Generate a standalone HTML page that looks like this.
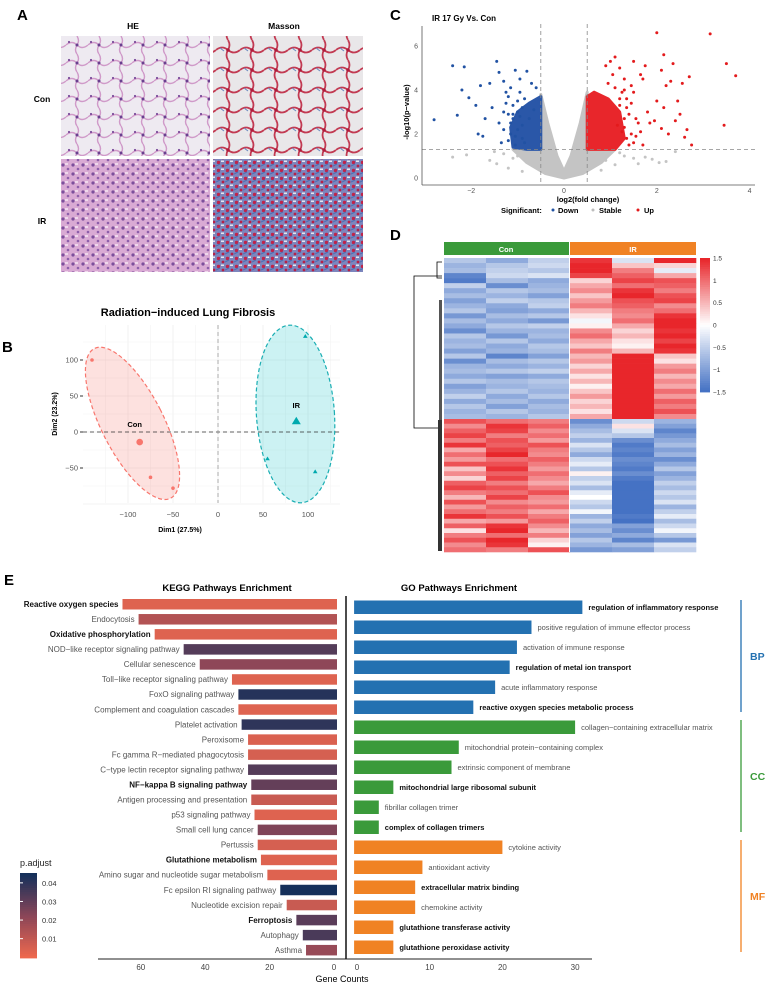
<!DOCTYPE html>
<html><head><meta charset="utf-8"><style>
html,body{margin:0;padding:0;background:#fff;}
svg{display:block;font-family:"Liberation Sans",sans-serif;}
</style></head><body>
<svg id="fig" width="769" height="985" viewBox="0 0 769 985" xmlns="http://www.w3.org/2000/svg">
<defs>
<pattern id="heCon" width="22" height="18" patternUnits="userSpaceOnUse"><rect width="22" height="18" fill="#eeeaf1"/><path d="M0 9 Q6 4 11 9 T22 9 M11 0 Q14 5 11 9 Q8 14 11 18" stroke="#d09ac9" stroke-width="1.4" fill="none"/><circle cx="11" cy="9" r="1.5" fill="#6a3f8f"/><circle cx="3" cy="6" r="1.1" fill="#7a4b9a"/></pattern>
<pattern id="heIR" width="10" height="9" patternUnits="userSpaceOnUse"><rect width="10" height="9" fill="#d9aad4"/><circle cx="3" cy="3" r="1.6" fill="#7c4f9c"/><circle cx="8" cy="7" r="1.3" fill="#8d5eaa"/><rect x="5" y="1" width="3" height="2" fill="#efd8ec"/></pattern>
<pattern id="maCon" width="24" height="20" patternUnits="userSpaceOnUse"><rect width="24" height="20" fill="#e9e7e9"/><path d="M0 10 Q6 5 12 10 T24 10 M12 0 Q15 5 12 10 Q9 15 12 20" stroke="#c23a52" stroke-width="1.8" fill="none"/><path d="M4 8 L8 11" stroke="#6a8ac0" stroke-width="1"/><circle cx="12" cy="10" r="1.8" fill="#b01c3c"/></pattern>
<pattern id="maIR" width="9" height="8" patternUnits="userSpaceOnUse"><rect width="9" height="8" fill="#7d86bd"/><circle cx="2.5" cy="2.5" r="1.7" fill="#c0234a"/><circle cx="7" cy="6" r="1.4" fill="#b62047"/><rect x="5" y="0.5" width="3" height="1.5" fill="#e7e5ee"/><path d="M0 6 L4 4" stroke="#4a6fb5" stroke-width="1"/></pattern>
</defs>

<g>
<text x="17" y="20" font-size="15" font-weight="bold">A</text>
<text x="133" y="29" font-size="8.5" font-weight="bold" text-anchor="middle">HE</text>
<text x="284" y="29" font-size="8.5" font-weight="bold" text-anchor="middle">Masson</text>
<text x="42" y="102" font-size="8.5" font-weight="bold" text-anchor="middle">Con</text>
<text x="42" y="224" font-size="8.5" font-weight="bold" text-anchor="middle">IR</text>
<rect x="61" y="36" width="149" height="120" fill="url(#heCon)"/>
<rect x="213" y="36" width="150" height="120" fill="url(#maCon)"/>
<rect x="61" y="159" width="149" height="113" fill="url(#heIR)"/>
<rect x="213" y="159" width="150" height="113" fill="url(#maIR)"/>
</g>

<g id="pca">
<text x="2" y="352" font-size="15" font-weight="bold">B</text>
<text x="188" y="316" font-size="11" font-weight="bold" text-anchor="middle">Radiation−induced Lung Fibrosis</text>
<text x="180" y="532" font-size="7" font-weight="bold" text-anchor="middle">Dim1 (27.5%)</text>
<text transform="translate(57,414) rotate(-90)" font-size="7" font-weight="bold" text-anchor="middle">Dim2 (23.2%)</text>
</g>

<g id="volcano">
<text x="390" y="20" font-size="15" font-weight="bold">C</text>
<text x="432" y="21" font-size="8" font-weight="bold">IR 17 Gy Vs. Con</text>
<text x="588" y="202" font-size="7.5" font-weight="bold" text-anchor="middle">log2(fold change)</text>
<text transform="translate(409,112) rotate(-90)" font-size="7.5" font-weight="bold" text-anchor="middle">-log10(p−value)</text>
<g>
<text x="501" y="213" font-size="7.5" font-weight="bold">Significant:</text>
<circle cx="553" cy="210" r="1.5" fill="#2152a3"/>
<text x="558" y="213" font-size="7.5" font-weight="bold">Down</text>
<circle cx="593" cy="210" r="1.5" fill="#bdbdbd"/>
<text x="599" y="213" font-size="7.5" font-weight="bold">Stable</text>
<circle cx="638" cy="210" r="1.5" fill="#e31a1c"/>
<text x="644" y="213" font-size="7.5" font-weight="bold">Up</text>
</g>
</g>

<g id="heat">
<text x="390" y="240" font-size="15" font-weight="bold">D</text>
<rect x="444" y="242" width="125" height="13" fill="#3a9a3a"/>
<rect x="570" y="242" width="126" height="13" fill="#f08224"/>
<text x="506" y="252" font-size="7.5" font-weight="bold" fill="#fff" text-anchor="middle">Con</text>
<text x="633" y="252" font-size="7.5" font-weight="bold" fill="#fff" text-anchor="middle">IR</text>
<path d="M442 276 H414 V428 H442 M442 262 H437 V278 H442 M437 262 V276" stroke="#000" stroke-width="0.8" fill="none"/>
<rect x="439" y="300" width="3" height="120" fill="#555"/>
<rect x="438" y="420" width="4" height="131" fill="#333"/>
</g>

<g id="enrich">
<text x="4" y="585" font-size="15" font-weight="bold">E</text>
<text x="227" y="591" font-size="9.5" font-weight="bold" text-anchor="middle">KEGG Pathways Enrichment</text>
<text x="459" y="591" font-size="9.5" font-weight="bold" text-anchor="middle">GO Pathways Enrichment</text>
<text x="342" y="982" font-size="9" text-anchor="middle">Gene Counts</text>
<text x="20" y="866" font-size="9" fill="#222">p.adjust</text>
</g>
</svg>
<script>
var NS='http://www.w3.org/2000/svg';
function mk(parent,tag,attrs){var e=document.createElementNS(NS,tag);for(var k in attrs)e.setAttribute(k,attrs[k]);parent.appendChild(e);return e;}
function txt(parent,x,y,s,size,extra){var e=mk(parent,'text',Object.assign({x:x,y:y,'font-size':size},extra||{}));e.textContent=s;return e;}

/* ===== PCA data ===== */
var pcaTicksX=[-100,-50,0,50,100];
var pcaTicksY=[-50,0,50,100];
var conX=[-140,-75,-50];
var conY=[100,-63,-78];
var irX=[97,55,108];
var irY=[133,-37,-55];
var conCentroid=[-87,-14];
var irCentroid=[87,15];
var conEllipse=[-95,12,31,84,-27];
var irEllipse=[86,25,39,89,-4];

/* ===== Volcano data ===== */
var vTicksX=[-2,0,2,4];
var vTicksY=[0,2,4,6];
var downFC=[-2.8,-2.4,-2.3,-2.2,-2.15,-2.05,-1.9,-1.85,-1.8,-1.75,-1.7,-1.6,-1.55,-1.45,-1.4,-1.4,-1.35,-1.3,-1.25,-1.2,-1.15,-1.1,-1.05,-1.0,-0.95,-0.9,-0.85,-0.8,-0.75,-0.7,-0.65,-0.6,-1.3,-1.2,-1.1,-1.0,-0.9,-1.05,-0.95,-0.85,-1.25,-1.15,-1.2,-1.1,-1.0,-0.9,-1.3,-1.15,-1.05,-0.95];
var downP=[2.65,5.1,2.85,4.0,5.05,3.65,3.3,2.0,4.2,1.9,2.7,4.3,3.2,5.3,4.8,2.5,1.6,4.4,3.9,2.9,4.1,3.3,4.9,2.2,4.5,1.8,3.6,4.85,2.7,4.3,3.1,4.1,2.2,1.7,2.7,3.0,2.4,1.5,3.9,1.6,3.4,2.0,3.7,2.9,3.5,3.2,3.0,2.5,1.9,2.8];
var upFC=[3.15,2.0,3.5,3.7,3.45,2.15,2.35,2.1,2.7,2.55,2.3,2.2,2.0,2.15,2.45,2.5,2.4,2.65,2.75,2.6,2.25,2.1,1.95,1.85,1.75,1.5,1.65,1.7,1.3,1.2,1.1,1.0,0.9,1.05,1.7,1.65,1.8,1.45,1.55,1.35,1.25,1.15,1.4,1.3,1.5,1.2,0.95,1.35,1.45,1.5,1.6,1.4,1.3,1.55,1.25,1.1,1.2,1.3,1.45,1.35];
var upP=[6.55,6.6,5.2,4.65,2.4,5.6,5.2,4.9,4.6,4.3,4.4,4.2,3.5,3.2,3.5,2.9,2.6,2.2,1.5,1.85,2.0,2.25,2.6,2.5,5.1,5.3,4.7,4.5,4.5,5.0,5.5,5.3,5.1,4.7,1.5,2.1,3.0,3.4,2.7,1.8,3.9,2.4,2.9,2.3,1.6,3.6,4.3,3.2,2.0,3.9,2.5,1.5,2.7,1.9,2.1,4.1,3.3,4.0,4.2,3.6];
var greyFC=[-2.4,-2.1,-1.6,-1.45,-1.3,-1.2,-1.1,0.9,1.1,1.3,1.6,1.75,1.9,2.05,2.2,2.4,-0.9,-0.7,0.8,1.0,-1.5,-1.0,1.2,1.5];
var greyP=[0.95,1.05,0.8,0.65,1.1,0.45,0.9,0.8,0.6,1.0,0.65,0.95,0.85,0.7,0.75,1.2,0.3,0.6,0.35,1.15,1.2,1.0,1.15,0.9];
var greyDenseFC=[-0.5,-0.5,-1.1,-0.8,-0.4,0,0.4,0.8,1.1,0.5,0.5,0.35,0.15,0,-0.15,-0.35];
var greyDenseP=[3.8,1.3,1.3,0.7,0.2,0,0.2,0.7,1.3,1.3,3.9,2.5,1.0,0.3,1.0,2.5];
var blueDenseFC=[-0.5,-0.5,-0.75,-1.0,-1.15,-1.1,-0.8,-0.6];
var blueDenseP=[1.3,3.7,3.4,3.0,2.3,1.4,1.3,1.3];
var redDenseFC=[0.5,0.5,0.65,0.95,1.2,1.3,1.1,0.5];
var redDenseP=[1.3,3.7,3.9,3.6,3.0,1.8,1.3,1.3];

/* ===== Heatmap data (cols: Con1,Con2,Con3,IR1,IR2,IR3) ===== */
var heatTop=[
[-0.6,-0.9,-0.5,1.4,-0.3,1.5],[-0.8,-0.6,-0.4,1.5,0.4,0.3],[-0.7,-0.5,-0.6,1.5,0.9,-0.2],[-1.3,-0.4,-0.3,1.3,1.1,0.6],
[-1.4,-0.7,-0.9,0.3,1.3,1.2],[-0.5,-1.2,-0.8,0.6,1.0,1.1],[-0.9,-0.6,-0.7,0.8,1.4,0.9],[-0.7,-0.8,-1.0,0.4,1.5,1.2],
[-1.0,-0.5,-0.6,0.7,1.2,1.3],[-0.8,-0.9,-0.5,0.9,1.1,0.8],[-0.6,-1.0,-0.9,0.5,0.9,1.0],[-1.1,-0.7,-0.6,0.2,0.8,1.4],
[-0.7,-0.9,-1.1,-0.1,1.0,1.5],[-0.9,-0.6,-0.5,0.1,0.6,1.5],[-1.2,-0.8,-0.8,0.8,0.3,1.4],[-0.6,-1.1,-0.7,1.0,0.5,1.5],
[-0.8,-0.6,-0.9,0.6,0.2,1.3],[-0.7,-0.9,-0.6,0.4,0.1,1.5],[-1.0,-0.8,-0.7,0.9,0.5,1.4],[-0.6,-1.3,-1.0,0.5,1.5,0.4],
[-1.2,-0.7,-0.6,0.7,1.5,0.2],[-0.8,-0.9,-0.8,0.3,1.5,0.7],[-0.7,-0.6,-0.5,0.6,1.5,0.9],[-0.9,-1.0,-0.9,0.2,1.5,0.5],
[-0.6,-0.7,-0.6,0.5,1.5,0.8],[-1.0,-0.8,-0.7,0.1,1.5,0.6],[-0.8,-0.6,-0.8,0.4,1.5,1.0],[-0.5,-0.9,-0.6,0.7,1.5,0.7],
[-0.9,-0.7,-0.9,0.3,1.5,1.1],[-0.6,-1.0,-0.7,0.5,1.5,0.9],[-0.8,-0.6,-0.8,0.2,1.5,1.2],[-0.7,-0.8,-0.6,0.6,1.5,0.8]];
var heatBottom=[
[1.2,1.0,0.9,-1.2,-0.4,-0.8],[0.8,1.4,1.1,-0.9,0.2,-1.0],[1.1,1.3,0.8,-0.7,-0.3,-1.3],[1.3,0.9,1.0,-0.5,-0.6,-1.1],
[0.9,1.2,0.7,-0.8,-1.2,-0.9],[1.4,1.1,1.2,-0.3,-1.4,-0.7],[0.6,1.3,0.9,-0.6,-1.3,-1.0],[1.0,1.5,0.8,-0.9,-1.4,-0.8],
[0.7,1.0,1.1,-0.4,-1.2,-1.2],[1.2,1.2,0.9,-0.2,-1.3,-0.9],[0.4,1.4,0.7,-0.6,-1.4,-0.6],[0.8,1.1,1.0,0.1,-1.2,-1.0],
[0.3,1.3,0.8,-0.5,-1.4,-0.8],[1.1,0.9,0.6,-0.3,-1.5,-0.5],[1.3,1.2,0.9,-0.7,-1.5,-0.7],[0.9,1.0,1.2,-0.2,-1.5,-0.4],
[0.5,1.3,0.8,0.0,-1.5,-0.6],[1.2,0.8,0.7,-0.4,-1.5,-0.3],[0.7,1.1,1.0,-0.6,-1.5,-0.8],[1.0,0.9,0.6,-0.1,-1.5,-0.5],
[1.4,1.2,0.9,-0.8,-1.4,-0.2],[0.6,0.7,1.1,-0.5,-1.5,-0.7],[1.1,1.4,0.8,-0.9,-1.0,-0.4],[0.2,1.5,0.5,-0.7,-1.2,-0.1],
[0.9,1.0,0.9,-1.0,-0.9,-0.6],[1.2,1.5,0.3,-0.6,-1.3,-1.1],[0.8,1.4,0.1,-0.8,-0.7,-0.3],[1.0,0.9,1.2,-1.1,-1.0,-0.5]];
var heatTicks=[1.5,1,0.5,0,-0.5,-1,-1.5];
var heatTickLabels=['1.5','1','0.5','0','−0.5','−1','−1.5'];

/* ===== KEGG data ===== */
var keggNames=['Reactive oxygen species','Endocytosis','Oxidative phosphorylation','NOD−like receptor signaling pathway','Cellular senescence','Toll−like receptor signaling pathway','FoxO signaling pathway','Complement and coagulation cascades','Platelet activation','Peroxisome','Fc gamma R−mediated phagocytosis','C−type lectin receptor signaling pathway','NF−kappa B signaling pathway','Antigen processing and presentation','p53 signaling pathway','Small cell lung cancer','Pertussis','Glutathione metabolism','Amino sugar and nucleotide sugar metabolism','Fc epsilon RI signaling pathway','Nucleotide excision repair','Ferroptosis','Autophagy','Asthma'];
var keggCounts=[66,61,56,47,42,32,30,30,29,27,27,27,26,26,25,24,24,23,21,17,15,12,10,9];
var keggPadj=[0.004,0.014,0.004,0.033,0.022,0.004,0.042,0.004,0.040,0.005,0.006,0.033,0.030,0.009,0.004,0.025,0.006,0.004,0.004,0.046,0.009,0.032,0.035,0.020];
var keggBold=[1,0,1,0,0,0,0,0,0,0,0,0,1,0,0,0,0,1,0,0,0,1,0,0];
var keggTicks=[60,40,20,0];
var padjTicks=[0.04,0.03,0.02,0.01];

/* ===== GO data ===== */
var goNames=['regulation of inflammatory response','positive regulation of immune effector process','activation of immune response','regulation of metal ion transport','acute inflammatory response','reactive oxygen species metabolic process','collagen−containing extracellular matrix','mitochondrial protein−containing complex','extrinsic component of membrane','mitochondrial large ribosomal subunit','fibrillar collagen trimer','complex of collagen trimers','cytokine activity','antioxidant activity','extracellular matrix binding','chemokine activity','glutathione transferase activity','glutathione peroxidase activity'];
var goCounts=[31,24,22,21,19,16,30,14,13,5,3,3,20,9,8,8,5,5];
var goCat=['BP','BP','BP','BP','BP','BP','CC','CC','CC','CC','CC','CC','MF','MF','MF','MF','MF','MF'];
var goBold=[1,0,0,1,0,1,0,0,0,1,0,1,0,0,1,0,1,1];
var goTicks=[0,10,20,30];
var goCatNames=['BP','CC','MF'];

/* ---------- PCA ---------- */
(function(){
var g=document.getElementById('pca');
var X=function(v){return 218+v*0.9;}, Y=function(v){return 432-v*0.72;};
var grid=mk(g,'g',{});


for(var v=-125;v<=125;v+=25){mk(grid,'line',{x1:X(v),x2:X(v),y1:325,y2:503,stroke:v%50===0?'#e8e8e8':'#f3f3f3','stroke-width':0.6});}
for(var w=-100;w<=125;w+=25){mk(grid,'line',{x1:83,x2:340,y1:Y(w),y2:Y(w),stroke:w%50===0?'#e8e8e8':'#f3f3f3','stroke-width':0.6});}
function ell(p,fill,stroke,name){var e=mk(g,'ellipse',{cx:X(p[0]),cy:Y(p[1]),rx:p[2],ry:p[3],transform:'rotate('+p[4]+' '+X(p[0])+' '+Y(p[1])+')',fill:fill,stroke:stroke,'stroke-width':1.2,'stroke-dasharray':'4 2.5'});

}
ell(conEllipse,'rgba(248,118,109,0.22)','#f8766d','con-ellipse');
ell(irEllipse,'rgba(0,191,196,0.2)','#1aaeb3','ir-ellipse');
mk(g,'line',{x1:83,x2:340,y1:Y(0),y2:Y(0),stroke:'#333','stroke-dasharray':'4 3','stroke-width':0.8});
mk(g,'line',{x1:X(0),x2:X(0),y1:325,y2:503,stroke:'#999','stroke-dasharray':'4 3','stroke-width':0.8});
for(var i=0;i<conX.length;i++){var c=mk(g,'circle',{cx:X(conX[i]),cy:Y(conY[i]),r:1.8,fill:'#f8766d'});

}
for(var j=0;j<irX.length;j++){var x=X(irX[j]),y=Y(irY[j]);var t=mk(g,'polygon',{points:(x)+','+(y-2.2)+' '+(x-2.3)+','+(y+1.6)+' '+(x+2.3)+','+(y+1.6),fill:'#00a9ae'});

}
var cc=mk(g,'circle',{cx:X(conCentroid[0]),cy:Y(conCentroid[1]),r:3.3,fill:'#f8766d'});


var ix=X(irCentroid[0]),iy=Y(irCentroid[1]);
var ic=mk(g,'polygon',{points:ix+','+(iy-4.5)+' '+(ix-4.5)+','+(iy+3)+' '+(ix+4.5)+','+(iy+3),fill:'#00a9ae'});


txt(g,X(conCentroid[0])-5,Y(conCentroid[1])-15,'Con',7.5,{'font-weight':'bold','text-anchor':'middle'});
txt(g,ix,iy-13,'IR',7.5,{'font-weight':'bold','text-anchor':'middle'});
pcaTicksX.forEach(function(v){txt(g,X(v),517,v<0?'−'+(-v):String(v),7.5,{'text-anchor':'middle',fill:'#555'});});
pcaTicksY.forEach(function(v){txt(g,78,Y(v)+2.5,v<0?'−'+(-v):String(v),7.5,{'text-anchor':'end',fill:'#555'});mk(g,'line',{x1:80,x2:83,y1:Y(v),y2:Y(v),stroke:'#333'});});
})();

/* ---------- Volcano ---------- */
(function(){
var g=document.getElementById('volcano');
var X=function(v){return 564+v*46.4;}, Y=function(v){return 178-v*22;};
function poly(xs,ys,fill,name){var p=xs.map(function(v,i){return X(v)+','+Y(ys[i]);}).join(' ');var e=mk(g,'polygon',{points:p,fill:fill,stroke:fill,'stroke-width':3,'stroke-linejoin':'round'});

}
poly(greyDenseFC,greyDenseP,'#c4c4c4','stable-dense-region');
poly(blueDenseFC,blueDenseP,'#2a57a8','down-dense-region');
poly(redDenseFC,redDenseP,'#e8262b','up-dense-region');
function pts(xs,ys,fill,name){for(var i=0;i<xs.length;i++){var c=mk(g,'circle',{cx:X(xs[i]),cy:Y(ys[i]),r:1.5,fill:fill});

}}
pts(greyFC,greyP,'#c4c4c4','stable-point');
pts(downFC,downP,'#2152a3','down-point');
pts(upFC,upP,'#e31a1c','up-point');
mk(g,'line',{x1:422,x2:755,y1:Y(1.3),y2:Y(1.3),stroke:'#888','stroke-dasharray':'4 3','stroke-width':0.8});
mk(g,'line',{x1:X(-0.5),x2:X(-0.5),y1:24,y2:185,stroke:'#888','stroke-dasharray':'4 3','stroke-width':0.8});
mk(g,'line',{x1:X(0.5),x2:X(0.5),y1:24,y2:185,stroke:'#888','stroke-dasharray':'4 3','stroke-width':0.8});
mk(g,'line',{x1:422,x2:755,y1:185,y2:185,stroke:'#555','stroke-width':0.8});
mk(g,'line',{x1:422,x2:422,y1:26,y2:185,stroke:'#555','stroke-width':0.8});
vTicksX.forEach(function(v){txt(g,X(v),193,v<0?'−'+(-v):String(v),7,{'text-anchor':'middle',fill:'#555'});});
vTicksY.forEach(function(v){txt(g,418,Y(v)+2.5,String(v),7,{'text-anchor':'end',fill:'#555'});});
})();

/* ---------- Heatmap ---------- */
(function(){
var g=document.getElementById('heat');
function col(v){var t=Math.max(-1,Math.min(1,v/1.5));var a,b;if(t<0){a=[255,255,255];b=[69,114,196];t=-t;}else{a=[255,255,255];b=[232,38,43];}
return 'rgb('+Math.round(a[0]+(b[0]-a[0])*t)+','+Math.round(a[1]+(b[1]-a[1])*t)+','+Math.round(a[2]+(b[2]-a[2])*t)+')';}
var colX=[444,486,528,570,612,654], cw=42;
function draw(rows,y0,h,name){var rh=h/rows.length;rows.forEach(function(r,i){r.forEach(function(v,j){var e=mk(g,'rect',{x:colX[j],y:y0+i*rh,width:cw+0.3,height:rh+0.3,fill:col(v)});

});});}
draw(heatTop,258,161,'heat-cell-upper');
draw(heatBottom,419,133,'heat-cell-lower');
mk(g,'line',{x1:569.5,x2:569.5,y1:258,y2:552,stroke:'#fff','stroke-width':1});
var cb=mk(g,'g',{});


for(var k=0;k<60;k++){var v=1.5-3*k/59;mk(cb,'rect',{x:700,y:258+k*134/60,width:10,height:134/60+0.4,fill:col(v)});}
heatTicks.forEach(function(v,i){txt(g,713,258+(1.5-v)/3*134+2.5,heatTickLabels[i],6.5,{fill:'#333'});});
})();

/* ---------- KEGG & GO ---------- */
(function(){
var g=document.getElementById('enrich');
var X=function(v){return 335-v*3.22;}, Y=function(i){return 604+i*15.04;};
var lo=[240,105,78], mid=[140,70,88], hi=[21,48,90];
function pc(p){var t=Math.max(0,Math.min(1,p/0.045));var a,b,u;if(t<0.5){a=lo;b=mid;u=t*2;}else{a=mid;b=hi;u=(t-0.5)*2;}
return 'rgb('+[0,1,2].map(function(k){return Math.round(a[k]+(b[k]-a[k])*u);}).join(',')+')';}
keggNames.forEach(function(n,i){
var b=mk(g,'rect',{x:X(keggCounts[i]),y:Y(i)-5,width:X(0)-X(keggCounts[i])+2,height:10.5,fill:pc(keggPadj[i])});


txt(g,X(keggCounts[i])-4,Y(i)+3,n,8,keggBold[i]?{'text-anchor':'end','font-weight':'bold',fill:'#111'}:{'text-anchor':'end',fill:'#555'});
});
mk(g,'line',{x1:98,x2:346,y1:959,y2:959,stroke:'#222','stroke-width':1});
keggTicks.forEach(function(v){txt(g,X(v)-1,970,String(v),8,{'text-anchor':'middle',fill:'#444'});});
var lg=mk(g,'g',{});


for(var k=0;k<40;k++){var p=0.0453-k*0.0457/40;mk(lg,'rect',{x:20,y:873+k*85/40,width:17,height:85/40+0.4,fill:pc(p)});}
padjTicks.forEach(function(p){var y=873+(0.0453-p)/0.0457*85;txt(g,42,y+3,String(p),7.5,{fill:'#333'});mk(g,'line',{x1:20,x2:23,y1:y,y2:y,stroke:'#fff'});});

var GX=function(v){return 357+v*7.27;}, GY=function(i){return 607+i*20;};
var cc={BP:'#2471b1',CC:'#3a9a3a',MF:'#f08224'};
mk(g,'line',{x1:346,x2:346,y1:596,y2:959,stroke:'#111','stroke-width':1.5});
goNames.forEach(function(n,i){
var b=mk(g,'rect',{x:GX(-0.4),y:GY(i)-6.5,width:GX(goCounts[i])-GX(-0.4),height:13.5,fill:cc[goCat[i]]});


txt(g,GX(goCounts[i])+6,GY(i)+3,n,7.5,goBold[i]?{'font-weight':'bold',fill:'#111'}:{fill:'#555'});
});
mk(g,'line',{x1:346,x2:592,y1:959,y2:959,stroke:'#222','stroke-width':1});
goTicks.forEach(function(v){txt(g,GX(v),970,String(v),8,{'text-anchor':'middle',fill:'#444'});});
goCatNames.forEach(function(c){var idx=[];goCat.forEach(function(k,i){if(k===c)idx.push(i);});
var y1=GY(idx[0])-7,y2=GY(idx[idx.length-1])+5;
var l=mk(g,'line',{x1:741,x2:741,y1:y1,y2:y2,stroke:cc[c],'stroke-width':1.3});


txt(g,750,(y1+y2)/2+4,c,10.5,{'font-weight':'bold',fill:cc[c]});});
})();
</script>
</body></html>
